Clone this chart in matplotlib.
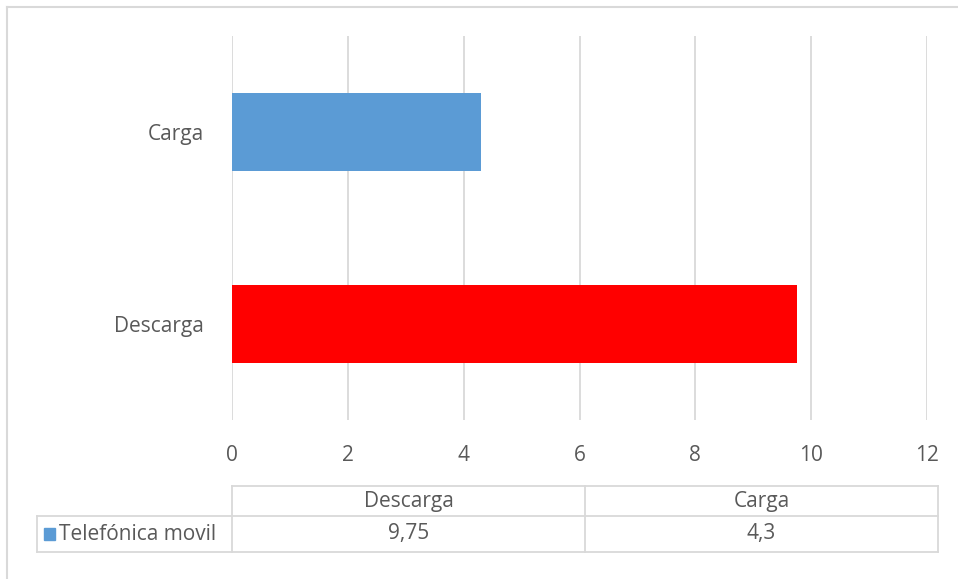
import matplotlib
matplotlib.use("Agg")
import matplotlib.pyplot as plt
from matplotlib.lines import Line2D
from matplotlib.patches import Rectangle

# datos
categorias = ["Descarga", "Carga"]
valores = [9.75, 4.3]
colores = ["#FF0000", "#5B9BD5"]
serie = "Telefónica movil"
etiquetas_tabla = ["9,75", "4,3"]
ticks_x = [0, 2, 4, 6, 8, 10, 12]

W, H = 958, 579
GRIS = "#D9D9D9"
TXT = "#595959"
FS = 15
plt.rcParams["font.family"] = ["Open Sans", "DejaVu Sans"]

fig = plt.figure(figsize=(W / 100, H / 100), dpi=100)


def fx(px):
    return px / W


def fy(py):
    return 1 - py / H


ax = fig.add_axes([fx(232), fy(420), fx(927) - fx(232), fy(36) - fy(420)])
ax.barh(range(len(categorias)), valores, height=0.405, color=colores, zorder=3)
ax.set_xlim(0, 12)
ax.set_ylim(-0.5, 1.5)
ax.set_xticks(ticks_x)
ax.set_yticks(range(len(categorias)))
ax.set_yticklabels(categorias)
ax.tick_params(axis="both", length=0, labelsize=FS, colors=TXT)
ax.tick_params(axis="y", pad=20)
ax.tick_params(axis="x", pad=18)
ax.grid(axis="x", color=GRIS, linewidth=1.3, zorder=0)
for s in ax.spines.values():
    s.set_visible(False)

# marco exterior (solo visibles arriba e izquierda)
for xs, ys in [((7, 958), (7, 7)), ((7, 7), (7, 579))]:
    fig.add_artist(Line2D([fx(xs[0]), fx(xs[1])], [fy(ys[0]), fy(ys[1])],
                          color=GRIS, linewidth=1.5, transform=fig.transFigure))

# tabla de datos
cols = [232, 585, 938]
y0, y1, y2 = 486, 516, 552
lineas = [
    ((232, 938), (y0, y0)),
    ((37, 938), (y1, y1)),
    ((37, 938), (y2, y2)),
    ((37, 37), (y1, y2)),
]
for c in cols:
    lineas.append(((c, c), (y0, y2)))
for xs, ys in lineas:
    fig.add_artist(Line2D([fx(xs[0]), fx(xs[1])], [fy(ys[0]), fy(ys[1])],
                          color=GRIS, linewidth=1.3, transform=fig.transFigure))

for i, cat in enumerate(categorias):
    cx = (cols[i] + cols[i + 1]) / 2
    fig.text(fx(cx), fy((y0 + y1) / 2), cat, ha="center", va="center",
             fontsize=FS, color=TXT)
    fig.text(fx(cx), fy((y1 + y2) / 2), etiquetas_tabla[i], ha="center",
             va="center", fontsize=FS, color=TXT)

fig.add_artist(Rectangle((fx(44), fy(540)), fx(11), fy(528) - fy(540),
                         color=colores[1], transform=fig.transFigure))
fig.text(fx(59), fy((y1 + y2) / 2), serie, ha="left", va="center",
         fontsize=FS, color=TXT)

fig.savefig("out.png", dpi=100)
